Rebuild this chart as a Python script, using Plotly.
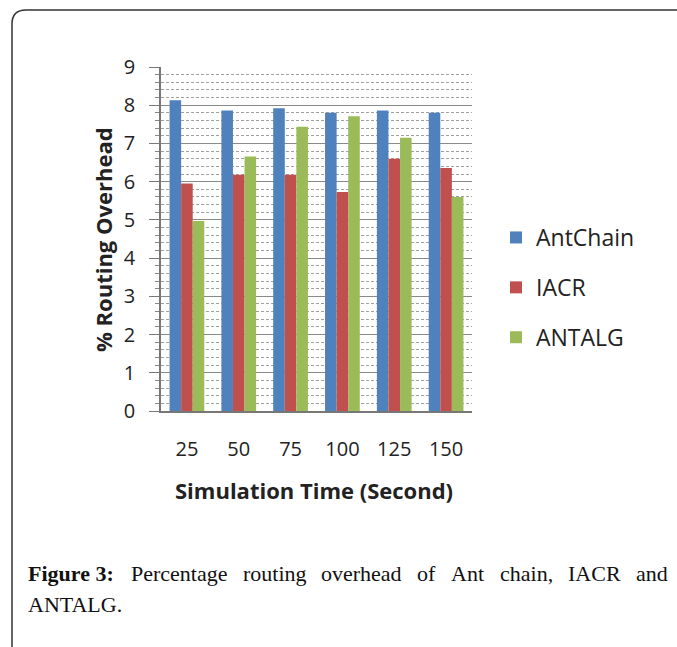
import plotly.graph_objects as go

categories = ["25", "50", "75", "100", "125", "150"]
antchain = [8.13, 7.86, 7.92, 7.80, 7.86, 7.80]
iacr = [5.95, 6.18, 6.18, 5.73, 6.60, 6.36]
antalg = [4.97, 6.66, 7.44, 7.71, 7.15, 5.60]
series_names = ["AntChain", "IACR", "ANTALG"]
colors = ["#4F81BD", "#C0504D", "#9BBB59"]
y_ticks = [0, 1, 2, 3, 4, 5, 6, 7, 8, 9]

W, H = 677, 647
L, R, T, B = 161, 472, 67, 411


def px(x):
    return (x - L) / (R - L)


def py(y):
    return (B - y) / (B - T)


FONT = "Open Sans"
fig = go.Figure()
for i, (name, vals) in enumerate(zip(series_names, [antchain, iacr, antalg])):
    fig.add_trace(go.Bar(x=categories, y=vals, name=name, marker_color=colors[i],
                         marker_line_width=0, legendgroup=name))

fig.update_layout(
    width=W, height=H,
    margin=dict(l=L, r=W - R, t=T, b=H - B),
    paper_bgcolor="white", plot_bgcolor="white",
    barmode="group", bargap=0.33, bargroupgap=0,
    font=dict(family=FONT, size=20, color="#222222"),
    showlegend=True,
    legend=dict(x=px(496), y=py(216), xanchor="left", yanchor="top",
                font=dict(family=FONT, size=23, color="#222222"),
                tracegroupgap=17, traceorder="grouped", itemwidth=30,
                bgcolor="rgba(0,0,0,0)"),
)
fig.update_xaxes(
    type="category", showgrid=False, showline=True, linecolor="#777777", linewidth=1.5,
    ticks="", tickfont=dict(family=FONT, size=20, color="#222222"), ticklabelstandoff=19,
)
fig.update_yaxes(
    range=[0, 9], tickvals=y_ticks, showgrid=True, gridcolor="#8a8a8a", gridwidth=1.2,
    showline=True, linecolor="#777777", linewidth=1.5, zeroline=False,
    ticks="outside", ticklen=10, tickcolor="#777777", tickwidth=1.2,
    tickfont=dict(family=FONT, size=20, color="#222222"), ticklabelstandoff=10,
    minor=dict(dtick=0.2, showgrid=True, gridcolor="#a0a0a0", griddash="3px,2px",
               gridwidth=1, ticks="outside", ticklen=4, tickcolor="#888888"),
)

# axis titles
fig.add_annotation(text="<b>% Routing Overhead</b>", xref="paper", yref="paper",
                   x=px(103), y=py(240), textangle=-90, showarrow=False,
                   xanchor="center", yanchor="middle",
                   font=dict(family=FONT, size=22, color="#222222"))
fig.add_annotation(text="<b>Simulation Time (Second)</b>", xref="paper", yref="paper",
                   x=px(314), y=py(490), showarrow=False,
                   xanchor="center", yanchor="middle",
                   font=dict(family=FONT, size=22, color="#222222"))

# caption (justified first line)
cap_words = ["<b>Figure 3:</b>", "Percentage", "routing", "overhead", "of", "Ant",
             "chain,", "IACR", "and"]
cap_x = [26, 129, 241, 319, 415, 449, 498, 566, 634]
for w, xw in zip(cap_words, cap_x):
    fig.add_annotation(text=w, xref="paper", yref="paper", x=px(xw), y=py(573),
                       xanchor="left", yanchor="middle", showarrow=False,
                       font=dict(family="Liberation Serif", size=22, color="#111111"))
fig.add_annotation(text="ANTALG.", xref="paper", yref="paper", x=px(26), y=py(604),
                   xanchor="left", yanchor="middle", showarrow=False,
                   font=dict(family="Liberation Serif", size=22, color="#111111"))

# frame with rounded top-left corner
path = (f"M {px(12)} {py(660)} L {px(12)} {py(24)} "
        f"Q {px(12)} {py(10)} {px(26)} {py(10)} L {px(690)} {py(10)}")
fig.add_shape(type="path", path=path, xref="paper", yref="paper",
              line=dict(color="#333333", width=1.5))

fig.write_html("out.html", config={"displayModeBar": False},
               post_script="document.body.style.margin='0';"
                           "document.body.style.overflow='hidden';")
